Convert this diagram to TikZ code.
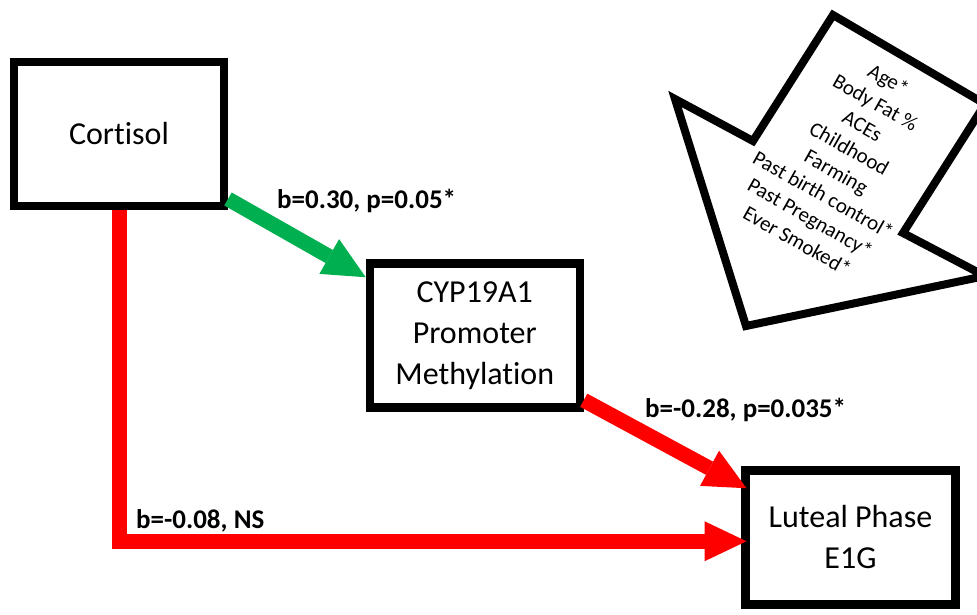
\documentclass[tikz,border=0pt]{standalone}
\usepackage{fontspec}
\setmainfont{Carlito}[Ligatures=CommonOff]
\usetikzlibrary{arrows.meta,calc}
\definecolor{pathgreen}{RGB}{0,176,80}
\definecolor{pathred}{RGB}{255,0,0}
\begin{document}
\begin{tikzpicture}[x=1pt,y=-1pt,
  box/.style={draw=black, line width=8.5pt, fill=white, minimum width=210pt,
    inner sep=0pt, outer sep=0pt, align=center,
    font=\fontsize{32}{41}\selectfont},
  link/.style={line width=15pt, line join=miter,
    -{Triangle[length=42pt,width=40pt,line width=0pt]}},
  lbl/.style={font=\fontsize{27}{32}\selectfont\bfseries, anchor=base west,
    inner sep=0pt},
  confounder/.style={draw=black, fill=white, line width=8pt, line join=miter}]
\useasboundingbox (0,0) rectangle (977,614);

% confounder arrow pointing down-left
\begin{scope}
  \clip (0,0) rectangle (977,614);
  \draw[confounder] (746,326) -- (675,99) -- (753,141) -- (833,15)
    -- (985,104) -- (903,233) -- (985,276) -- cycle;
\end{scope}
\node[rotate=-29.5, align=center, inner sep=0pt,
  font=\fontsize{21}{26.5}\selectfont] (conf) at (843,160)
  {Age*\\Body Fat \%\\ACEs\\Childhood\\Farming\\Past birth control*\\Past Pregnancy*\\Ever Smoked*};

% variables
\node[box, minimum height=144pt] (cort) at (119,134) {Cortisol};
\node[box, minimum height=144pt] (cyp) at (474.75,335.25) {CYP19A1\\Promoter\\Methylation};
\node[box, minimum height=134pt] (lut) at (850.5,537.25) {Luteal Phase\\E1G};

% paths
\draw[link, pathgreen] ($(cort.east)+(4,65)$) -- ($(cyp.west)+(-4,-58)$);
\draw[link, pathred] ($(cyp.east)+(4,65)$) -- ($(lut.west)+(1,-49)$);
\draw[link, pathred] ($(cort.south)+(0,4)$) |- ($(lut.west)+(1,4)$);

% path coefficients
\node[lbl] (l1) at (277,208) {b=0.30, p=0.05*};
\node[lbl] (l2) at (645,417) {b=-0.28, p=0.035*};
\node[lbl] (l3) at (136,528) {b=-0.08, NS};
\end{tikzpicture}
\end{document}
